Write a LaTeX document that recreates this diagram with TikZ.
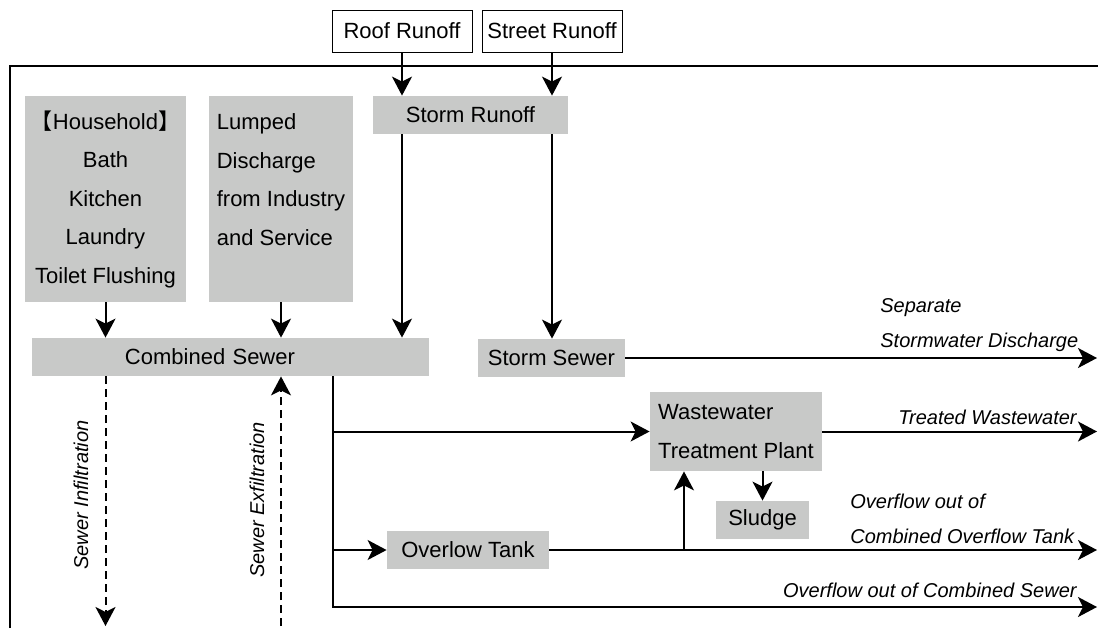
\documentclass[tikz,border=0pt]{standalone}
\usepackage{fontspec}
\setmainfont{Liberation Sans}
\newfontfamily\cjk{Noto Sans CJK SC}
\usetikzlibrary{arrows.meta,positioning}
\definecolor{boxgray}{RGB}{200,201,200}

\begin{document}
\begin{tikzpicture}[x=0.5pt, y=-0.5pt, font=\fontsize{11}{19.25}\selectfont,
                    box/.style = {fill=boxgray, inner sep=0pt, minimum height=19pt},
                    src/.style = {draw, line width=0.5pt, inner sep=0pt, minimum width=70pt, minimum height=21pt},
                    flow/.style = {line width=1pt, -{Stealth[length=9.5pt, width=10pt, inset=2.5pt]}},
                    seep/.style = {flow, dash pattern=on 4pt off 2.5pt},
                    note/.style = {font=\fontsize{10}{17.5}\selectfont\itshape, inner sep=0pt, align=left}]
\useasboundingbox (0,0) rectangle (1098,628);
\draw[line width=1pt] (10,628) -- (10,66) -- (1098,66);
\coordinate (rim) at (1097,626);
% sources and boxes
\node[src] (roof) at (402,31) {Roof Runoff};
\node[src, right=4.5pt of roof] (street) {Street Runoff};
\node[box, minimum width=97.5pt] (storm) at (470.5,115) {Storm Runoff};
\node[box, minimum width=80.5pt, minimum height=103pt, align=center] (house) at (105.5,199)
    {{\cjk 【}Household{\cjk 】}\\Bath\\Kitchen\\Laundry\\Toilet Flushing};
\node[box, minimum width=72pt, minimum height=103pt, align=left] (lumped) at (281,199)
    {Lumped\\Discharge\\from Industry\\and Service\\~};
\node[box, text width=198.5pt, align=left] (combined) at (230.5,357) {\hspace*{46.5pt}Combined Sewer};
\node[box, minimum width=73.5pt] (stormsewer) at (551.5,358) {Storm Sewer};
\node[box, minimum width=86pt, minimum height=39.5pt, align=left] (wwtp) at (736,431.5)
    {Wastewater\\Treatment Plant};
\node[box, minimum width=46.5pt] (sludge) at (762.5,520) {Sludge};
\node[box, minimum width=81pt] (tank) at (468,550) {Overlow Tank};
\coordinate (drop) at (333,376);
\coordinate (cso) at (333,607);
\coordinate (tee) at (684,550);
% flows
\draw[flow] (roof.south) -- (roof.south |- storm.north);
\draw[flow] (street.south) -- (street.south |- storm.north);
\draw[flow] (storm.south -| roof) -- (combined.north -| roof);
\draw[flow] (storm.south -| street) -- (stormsewer.north -| street);
\draw[flow] (house.south) -- (house.south |- combined.north);
\draw[flow] (lumped.south) -- (lumped.south |- combined.north);
\draw[seep] (combined.south -| house) -- (house |- rim);
\draw[seep] (lumped |- rim) -- (combined.south -| lumped);
\draw[flow] (drop) -- (cso) -- (cso -| rim);
\draw[flow] (drop |- wwtp.west) -- (wwtp.west);
\draw[flow] (drop |- tank.west) -- (tank.west);
\draw[flow] (stormsewer.east) -- (stormsewer.east -| rim);
\draw[flow] (wwtp.east) -- (wwtp.east -| rim);
\draw[flow] (tank.east) -- (tank.east -| rim);
\draw[flow] (tee) -- (tee |- wwtp.south);
\draw[flow] (wwtp.south -| sludge) -- (sludge.north);
% labels
\node[note, anchor=south west] (sep) at (880,352) {Separate\\Stormwater Discharge};
\node[note, anchor=base east] (treated) at (1077,424) {Treated Wastewater};
\node[note, anchor=south west] (ovtank) at (850,544) {Overflow out of\\Combined Overflow Tank};
\node[note, anchor=base east] (ovsewer) at (1077,597) {Overflow out of Combined Sewer};
\node[note, rotate=90] (infil) at (81,495) {Sewer Infiltration};
\node[note, rotate=90] (exfil) at (257,500) {Sewer Exfiltration};
\end{tikzpicture}
\end{document}
